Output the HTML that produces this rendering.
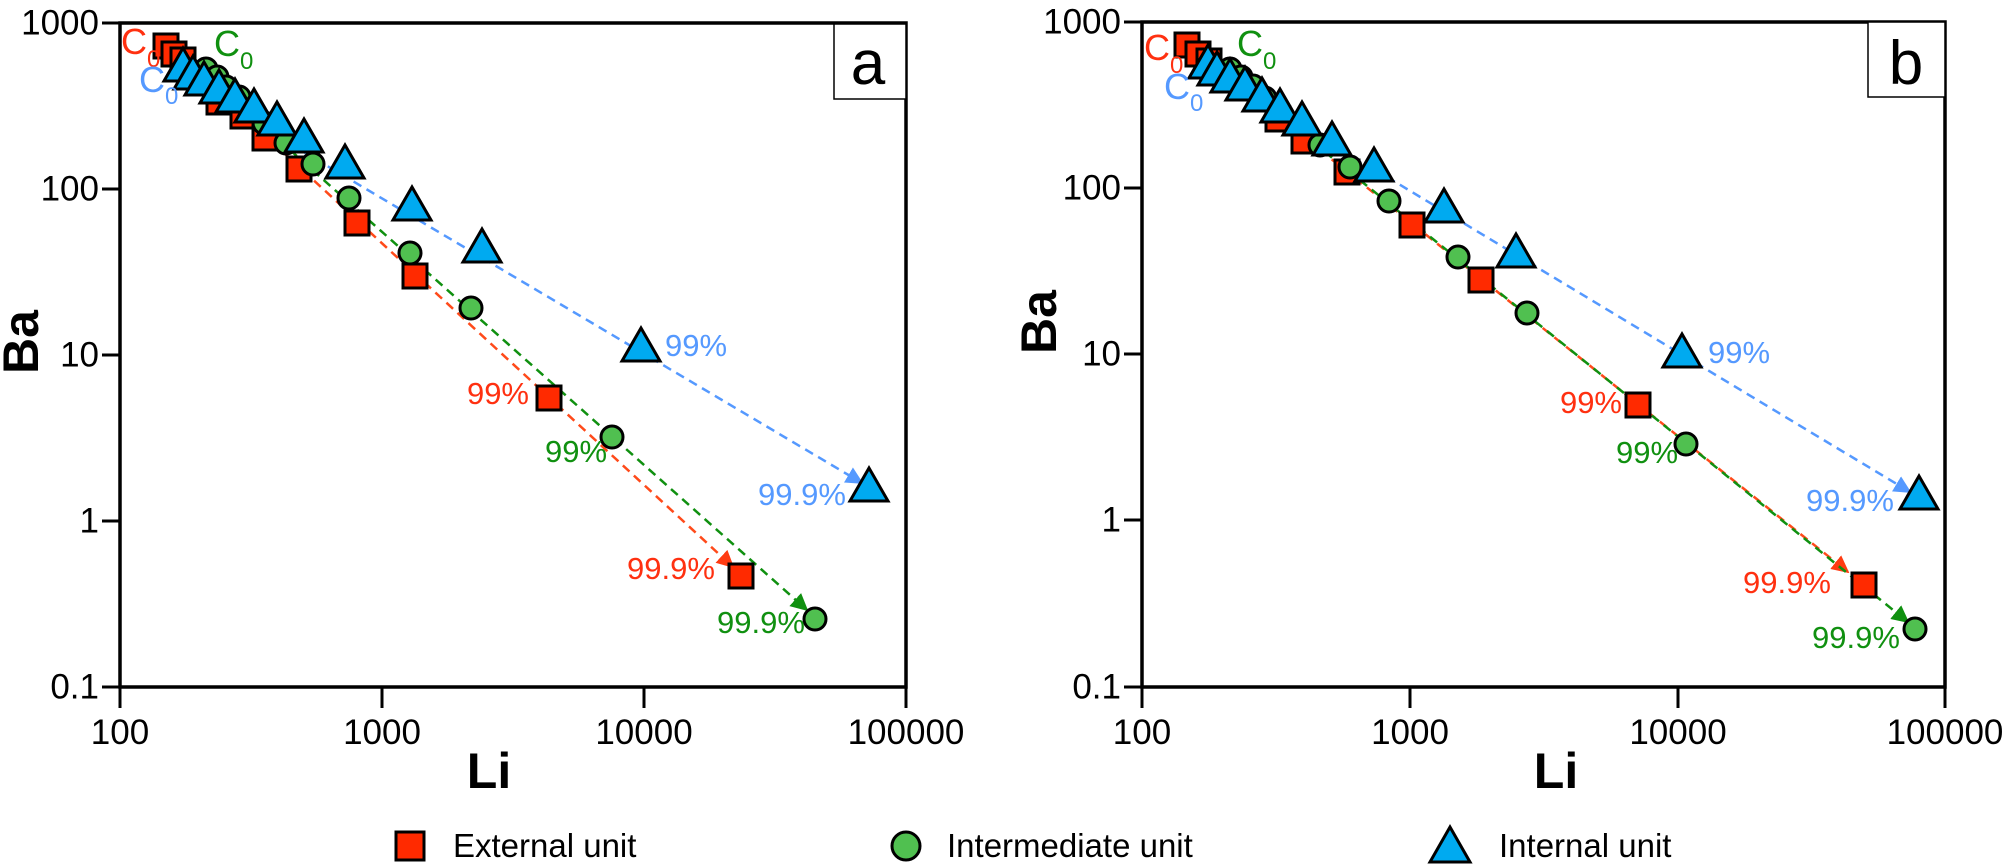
<!DOCTYPE html>
<html><head><meta charset="utf-8"><style>
html,body{margin:0;padding:0;background:#fff;}
svg{display:block;font-family:"Liberation Sans",Arial,sans-serif;}
</style></head><body>
<svg width="2006" height="866" viewBox="0 0 2006 866" xmlns="http://www.w3.org/2000/svg">
<defs>
<marker id="ar" viewBox="0 0 10 10" refX="9" refY="5" markerWidth="7" markerHeight="7" orient="auto"><path d="M0,0L10,5L0,10z" fill="#ff3b12"/></marker>
<marker id="ag" viewBox="0 0 10 10" refX="9" refY="5" markerWidth="7" markerHeight="7" orient="auto"><path d="M0,0L10,5L0,10z" fill="#109010"/></marker>
<marker id="ab" viewBox="0 0 10 10" refX="9" refY="5" markerWidth="7" markerHeight="7" orient="auto"><path d="M0,0L10,5L0,10z" fill="#5599ff"/></marker>
<rect id="sq" x="-12" y="-12" width="24" height="24" fill="#ff2a00" stroke="#000" stroke-width="3"/>
<circle id="ci" r="11" fill="#50c050" stroke="#000" stroke-width="3"/>
<path id="tr" d="M0,-21L19,12L-19,12z" fill="#00aaf0" stroke="#000" stroke-width="3" stroke-linejoin="miter"/>
</defs>

<!-- ============ PANEL A ============ -->
<g>
<rect x="120" y="23" width="786" height="664" fill="none" stroke="#000" stroke-width="3.5"/>
<g stroke="#000" stroke-width="3">
<line x1="102" y1="23" x2="120" y2="23"/><line x1="102" y1="189" x2="120" y2="189"/><line x1="102" y1="355" x2="120" y2="355"/><line x1="102" y1="521" x2="120" y2="521"/><line x1="102" y1="687" x2="120" y2="687"/>
<line x1="120" y1="687" x2="120" y2="708"/><line x1="382" y1="687" x2="382" y2="708"/><line x1="644" y1="687" x2="644" y2="708"/><line x1="906" y1="687" x2="906" y2="708"/>
</g>
<g font-size="35" text-anchor="end" dominant-baseline="central">
<text x="99" y="23">1000</text><text x="99" y="189">100</text><text x="99" y="355">10</text><text x="99" y="521">1</text><text x="99" y="687">0.1</text>
</g>
<g font-size="35" text-anchor="middle">
<text x="120" y="744">100</text><text x="382" y="744">1000</text><text x="644" y="744">10000</text><text x="906" y="744">100000</text>
</g>
<text x="489" y="788" font-size="50" font-weight="bold" text-anchor="middle">Li</text>
<text transform="translate(38,342) rotate(-90)" font-size="50" font-weight="bold" text-anchor="middle">Ba</text>
<rect x="834" y="24" width="72" height="75" fill="#fff" stroke="#000" stroke-width="1.5"/>
<text x="868" y="84" font-size="62" text-anchor="middle">a</text>

<g fill="none" stroke-width="2.5" stroke-dasharray="9,6">
<line x1="270" y1="140" x2="733" y2="567" stroke="#ff4a1a" marker-end="url(#ar)"/>
<line x1="290" y1="150" x2="807" y2="610" stroke="#109010" marker-end="url(#ag)"/>
<line x1="302" y1="151" x2="862" y2="483" stroke="#5599ff" marker-end="url(#ab)"/>
</g>

<use href="#sq" x="166" y="46"/><use href="#sq" x="174" y="54"/><use href="#sq" x="183" y="60"/><use href="#sq" x="219" y="102"/><use href="#sq" x="243" y="116"/><use href="#sq" x="265" y="138"/><use href="#sq" x="299" y="169"/><use href="#sq" x="357" y="223"/><use href="#sq" x="415" y="276"/><use href="#sq" x="549" y="398"/><use href="#sq" x="741" y="576"/>
<use href="#ci" x="206" y="69"/><use href="#ci" x="217" y="77"/><use href="#ci" x="226" y="87"/><use href="#ci" x="239" y="97"/><use href="#ci" x="264" y="123"/><use href="#ci" x="286" y="143"/><use href="#ci" x="313" y="164"/><use href="#ci" x="349" y="198"/><use href="#ci" x="410" y="253"/><use href="#ci" x="471" y="308"/><use href="#ci" x="612" y="437"/><use href="#ci" x="815" y="619"/>
<use href="#tr" x="183" y="69"/><use href="#tr" x="193" y="77"/><use href="#tr" x="204" y="83"/><use href="#tr" x="219" y="91"/><use href="#tr" x="235" y="100"/><use href="#tr" x="254" y="110"/><use href="#tr" x="277" y="123"/><use href="#tr" x="304" y="140"/><use href="#tr" x="345" y="166"/><use href="#tr" x="412" y="208"/><use href="#tr" x="482" y="250"/><use href="#tr" x="641" y="349"/><use href="#tr" x="869" y="489"/>

<g font-size="31">
<text x="665" y="356" fill="#5599ff">99%</text>
<text x="529" y="404" fill="#ff3010" text-anchor="end">99%</text>
<text x="545" y="462" fill="#109010">99%</text>
<text x="758" y="505" fill="#5599ff">99.9%</text>
<text x="627" y="579" fill="#ff3010">99.9%</text>
<text x="717" y="633" fill="#109010">99.9%</text>
</g>
<g font-size="36">
<text x="121" y="54" fill="#ff3010">C<tspan font-size="24" dy="13">0</tspan></text>
<text x="214" y="56" fill="#109010">C<tspan font-size="24" dy="13">0</tspan></text>
<text x="139" y="92" fill="#5599ff">C<tspan font-size="24" dy="12">0</tspan></text>
</g>
</g>

<!-- ============ PANEL B ============ -->
<g>
<rect x="1142" y="22" width="803" height="665" fill="none" stroke="#000" stroke-width="3.5"/>
<g stroke="#000" stroke-width="3">
<line x1="1124" y1="22" x2="1142" y2="22"/><line x1="1124" y1="188" x2="1142" y2="188"/><line x1="1124" y1="354" x2="1142" y2="354"/><line x1="1124" y1="520" x2="1142" y2="520"/><line x1="1124" y1="687" x2="1142" y2="687"/>
<line x1="1142" y1="687" x2="1142" y2="708"/><line x1="1410" y1="687" x2="1410" y2="708"/><line x1="1678" y1="687" x2="1678" y2="708"/><line x1="1945" y1="687" x2="1945" y2="708"/>
</g>
<g font-size="35" text-anchor="end" dominant-baseline="central">
<text x="1121" y="22">1000</text><text x="1121" y="188">100</text><text x="1121" y="354">10</text><text x="1121" y="520">1</text><text x="1121" y="687">0.1</text>
</g>
<g font-size="35" text-anchor="middle">
<text x="1142" y="744">100</text><text x="1410" y="744">1000</text><text x="1678" y="744">10000</text><text x="1945" y="744">100000</text>
</g>
<text x="1556" y="788" font-size="50" font-weight="bold" text-anchor="middle">Li</text>
<text transform="translate(1056,322) rotate(-90)" font-size="50" font-weight="bold" text-anchor="middle">Ba</text>
<rect x="1868" y="22" width="77" height="75" fill="#fff" stroke="#000" stroke-width="1.5"/>
<text x="1906" y="84" font-size="62" text-anchor="middle">b</text>

<g fill="none" stroke-width="2.5" stroke-dasharray="9,6">
<line x1="1320" y1="150" x2="1848" y2="572" stroke="#ff4a1a" marker-end="url(#ar)"/>
<line x1="1325" y1="152" x2="1908" y2="622" stroke="#109010" marker-end="url(#ag)"/>
<line x1="1387" y1="177" x2="1910" y2="492" stroke="#5599ff" marker-end="url(#ab)"/>
</g>

<use href="#sq" x="1187" y="45"/><use href="#sq" x="1198" y="54"/><use href="#sq" x="1209" y="61"/><use href="#sq" x="1278" y="119"/><use href="#sq" x="1304" y="141"/><use href="#sq" x="1347" y="172"/><use href="#sq" x="1412" y="225"/><use href="#sq" x="1481" y="280"/><use href="#sq" x="1638" y="405"/><use href="#sq" x="1864" y="585"/>
<use href="#ci" x="1230" y="69"/><use href="#ci" x="1241" y="77"/><use href="#ci" x="1253" y="86"/><use href="#ci" x="1265" y="98"/><use href="#ci" x="1279" y="110"/><use href="#ci" x="1320" y="145"/><use href="#ci" x="1350" y="167"/><use href="#ci" x="1389" y="201"/><use href="#ci" x="1458" y="257"/><use href="#ci" x="1527" y="313"/><use href="#ci" x="1686" y="444"/><use href="#ci" x="1915" y="629"/>
<use href="#tr" x="1208" y="66"/><use href="#tr" x="1217" y="73"/><use href="#tr" x="1230" y="80"/><use href="#tr" x="1245" y="88"/><use href="#tr" x="1262" y="99"/><use href="#tr" x="1280" y="110"/><use href="#tr" x="1302" y="123"/><use href="#tr" x="1332" y="143"/><use href="#tr" x="1374" y="169"/><use href="#tr" x="1444" y="210"/><use href="#tr" x="1516" y="255"/><use href="#tr" x="1682" y="355"/><use href="#tr" x="1919" y="497"/>

<g font-size="31">
<text x="1708" y="363" fill="#5599ff">99%</text>
<text x="1622" y="413" fill="#ff3010" text-anchor="end">99%</text>
<text x="1616" y="463" fill="#109010">99%</text>
<text x="1806" y="511" fill="#5599ff">99.9%</text>
<text x="1743" y="593" fill="#ff3010">99.9%</text>
<text x="1812" y="648" fill="#109010">99.9%</text>
</g>
<g font-size="36">
<text x="1144" y="60" fill="#ff3010">C<tspan font-size="24" dy="13">0</tspan></text>
<text x="1237" y="56" fill="#109010">C<tspan font-size="24" dy="13">0</tspan></text>
<text x="1164" y="99" fill="#5599ff">C<tspan font-size="24" dy="12">0</tspan></text>
</g>
</g>

<!-- ============ LEGEND ============ -->
<g>
<rect x="396" y="832" width="28" height="28" fill="#ff2a00" stroke="#000" stroke-width="3"/>
<text x="453" y="857" font-size="33">External unit</text>
<circle cx="906" cy="846" r="14" fill="#50c050" stroke="#000" stroke-width="3"/>
<text x="947" y="857" font-size="33">Intermediate unit</text>
<path d="M1450,827L1470,862L1430,862z" fill="#00aaf0" stroke="#000" stroke-width="3"/>
<text x="1499" y="857" font-size="33">Internal unit</text>
</g>
</svg>
</body></html>
